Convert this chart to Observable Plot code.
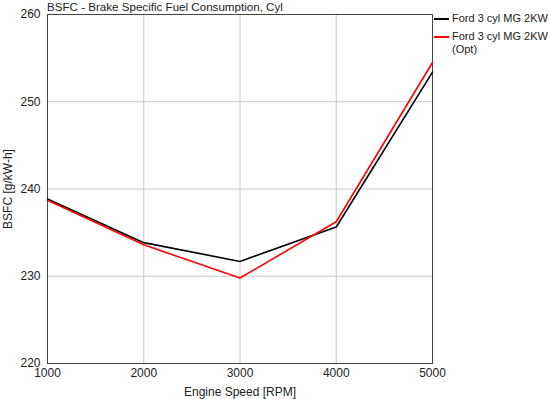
<!DOCTYPE html>
<html><head><meta charset="utf-8">
<script src="https://cdn.jsdelivr.net/npm/d3@7"></script>
<script src="https://cdn.jsdelivr.net/npm/@observablehq/plot@0.6"></script>
<style>
body{margin:0;background:#fff;font-family:"Liberation Sans",Arial,sans-serif;}
#wrap{position:relative;width:550px;height:399px;}
#title{position:absolute;left:47px;top:0px;font-size:11.6px;color:#222;white-space:nowrap;}
#legend{position:absolute;left:434px;top:12px;width:116px;font-size:11px;color:#222;line-height:13px;}
.item{display:flex;align-items:flex-start;margin-bottom:5px;white-space:nowrap;}
.sw{width:15px;height:2px;margin-top:6px;margin-right:3px;flex:none;}
</style></head><body>
<div id="wrap">
<div id="chart"></div>
<div id="title">BSFC - Brake Specific Fuel Consumption, Cyl</div>
<div id="legend"></div>
</div>
<script>
const speeds = [1000, 2000, 3000, 4000, 5000];
const seriesNames = ["Ford 3 cyl MG 2KW", "Ford 3 cyl MG 2KW (Opt)"];
const legendLabels = [["Ford 3 cyl MG 2KW"], ["Ford 3 cyl MG 2KW", "(Opt)"]];
const seriesColors = ["#000000", "#ff0000"];
const bsfcBase = [238.85, 233.85, 231.7, 235.65, 253.4];
const bsfcOpt = [238.7, 233.6, 229.8, 236.25, 254.5];
const xTicks = [1000, 2000, 3000, 4000, 5000];
const yTicks = [220, 230, 240, 250, 260];

const rows = [];
[bsfcBase, bsfcOpt].forEach((vals, i) => vals.forEach((v, j) => rows.push({speed: speeds[j], bsfc: v, series: seriesNames[i]})));

const chart = Plot.plot({
  width: 550, height: 399,
  marginLeft: 47, marginRight: 118, marginTop: 14, marginBottom: 36,
  style: {fontFamily: "Liberation Sans, Arial, sans-serif", fontSize: "12px", color: "#222"},
  x: {domain: [1000, 5000], ticks: xTicks, tickSize: 0, tickPadding: 5, tickFormat: d => String(d), label: "Engine Speed [RPM]", labelAnchor: "center", labelArrow: "none", labelOffset: 32},
  y: {domain: [220, 260], ticks: yTicks, tickSize: 0, tickPadding: 7, label: "BSFC [g/kW-h]", labelAnchor: "center", labelArrow: "none", labelOffset: 44},
  color: {domain: seriesNames, range: seriesColors},
  marks: [
    Plot.gridX(xTicks, {stroke: "#c8c8c8", strokeOpacity: 1}),
    Plot.gridY(yTicks, {stroke: "#c8c8c8", strokeOpacity: 1}),
    Plot.frame({stroke: "#444"}),
    Plot.line(rows, {x: "speed", y: "bsfc", stroke: "series", z: "series", strokeWidth: 1.6})
  ]
});
document.getElementById("chart").appendChild(chart);

const leg = document.getElementById("legend");
legendLabels.forEach((lines, i) => {
  const it = document.createElement("div"); it.className = "item";
  const sw = document.createElement("div"); sw.className = "sw"; sw.style.background = seriesColors[i];
  const tx = document.createElement("div"); tx.innerHTML = lines.join("<br>");
  it.appendChild(sw); it.appendChild(tx); leg.appendChild(it);
});
</script>
</body></html>
